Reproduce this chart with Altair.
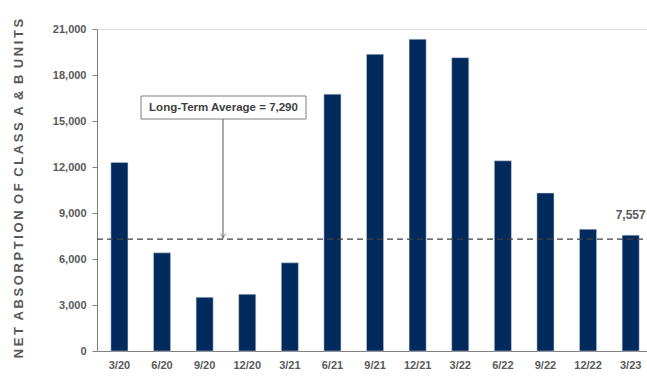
import altair as alt
import pandas as pd

# Quarterly net absorption, class A & B units
quarters = ["3/20", "6/20", "9/20", "12/20", "3/21", "6/21", "9/21",
            "12/21", "3/22", "6/22", "9/22", "12/22", "3/23"]
absorption = [12300, 6400, 3500, 3700, 5750, 16750, 19350,
              20330, 19130, 12400, 10300, 7940, 7557]
long_term_avg = 7290
y_ticks = [0, 3000, 6000, 9000, 12000, 15000, 18000, 21000]

FONT = "Liberation Sans"
NAVY = "#022a5c"
GRAY = "#595959"
Y_TITLE = ("N\u2009E\u2009T\u2002A\u2009B\u2009S\u2009O\u2009R\u2009P\u2009T\u2009I\u2009O\u2009N"
           "\u2002O\u2009F\u2002C\u2009L\u2009A\u2009S\u2009S\u2002A\u2002&\u2002B\u2002"
           "U\u2009N\u2009I\u2009T\u2009S")

df = pd.DataFrame({"quarter": quarters, "units": absorption})
avg_df = pd.DataFrame({"avg": [long_term_avg]})
last_df = df.tail(1)

W, H = 550, 322
y_scale = alt.Scale(domain=[0, 21000], nice=False)
x_scale = alt.Scale(paddingInner=0.6, paddingOuter=0.255, align=0.64)

x_axis = alt.Axis(labelAngle=0, labelFont=FONT, labelFontSize=11,
                  labelFontWeight="bold", labelColor=GRAY,
                  labelPadding=8, ticks=False, domainColor="#808080")
y_axis = alt.Axis(values=y_ticks, format=",.0f", grid=False,
                  labelFont=FONT, labelFontSize=11,
                  labelFontWeight="bold", labelColor=GRAY,
                  labelPadding=6, tickSize=5, tickColor="#808080",
                  domainColor="#808080",
                  titleFont=FONT, titleFontSize=13,
                  titleFontWeight="bold", titleColor=GRAY,
                  titleX=-72, titleY=H / 2 - 2, titleAngle=270)

x_enc = alt.X("quarter:N", sort=quarters, title=None, scale=x_scale, axis=x_axis)
y_enc = alt.Y("units:Q", scale=y_scale, title=Y_TITLE, axis=y_axis)
avg_y = alt.Y("avg:Q", scale=y_scale, title=Y_TITLE, axis=y_axis)

bars = alt.Chart(df).mark_bar(color=NAVY, stroke="#c9d3e0", strokeWidth=0.5).encode(
    x=x_enc, y=y_enc)

avg_line = alt.Chart(avg_df).mark_rule(
    color="#404040", strokeDash=[6, 4], strokeWidth=1.2, clip=False
).encode(x=alt.value(0), x2=alt.value(W), y=avg_y)

last_label = alt.Chart(last_df).mark_text(
    font=FONT, fontSize=12, fontWeight="bold", color=GRAY, dy=-20
).encode(x=x_enc, y=y_enc, text=alt.Text("units:Q", format=","))

# Callout box with arrow pointing at the average line
box = alt.Chart(avg_df).mark_rect(
    fill="white", stroke="#7f7f7f", strokeWidth=1
).encode(x=alt.value(44), x2=alt.value(209), y=alt.value(67), y2=alt.value(90))

box_text = alt.Chart(avg_df).mark_text(
    font=FONT, fontSize=11.5, fontWeight="bold", color="#404040"
).encode(x=alt.value(126.5), y=alt.value(79),
         text=alt.value("Long-Term Average = 7,290"))

arrow = alt.Chart(avg_df).mark_rule(color="#595959", strokeWidth=1).encode(
    x=alt.value(126), y=avg_y, y2=alt.value(90))

arrow_head = alt.Chart(avg_df).mark_point(
    shape="M-1,-1.3L0,0L1,-1.3", filled=False, size=30, color="#595959",
    strokeWidth=1, yOffset=-2
).encode(x=alt.value(126), y=avg_y)

chart = alt.layer(bars, avg_line, last_label, arrow, arrow_head, box, box_text).properties(
    width=W, height=H,
    autosize=alt.AutoSizeParams(type="none"),
    padding={"left": 97, "top": 29, "right": 0, "bottom": 26},
).configure_view(strokeWidth=0).configure(background="white")

chart.save("out.html", embed_options={"renderer": "svg", "actions": False})
